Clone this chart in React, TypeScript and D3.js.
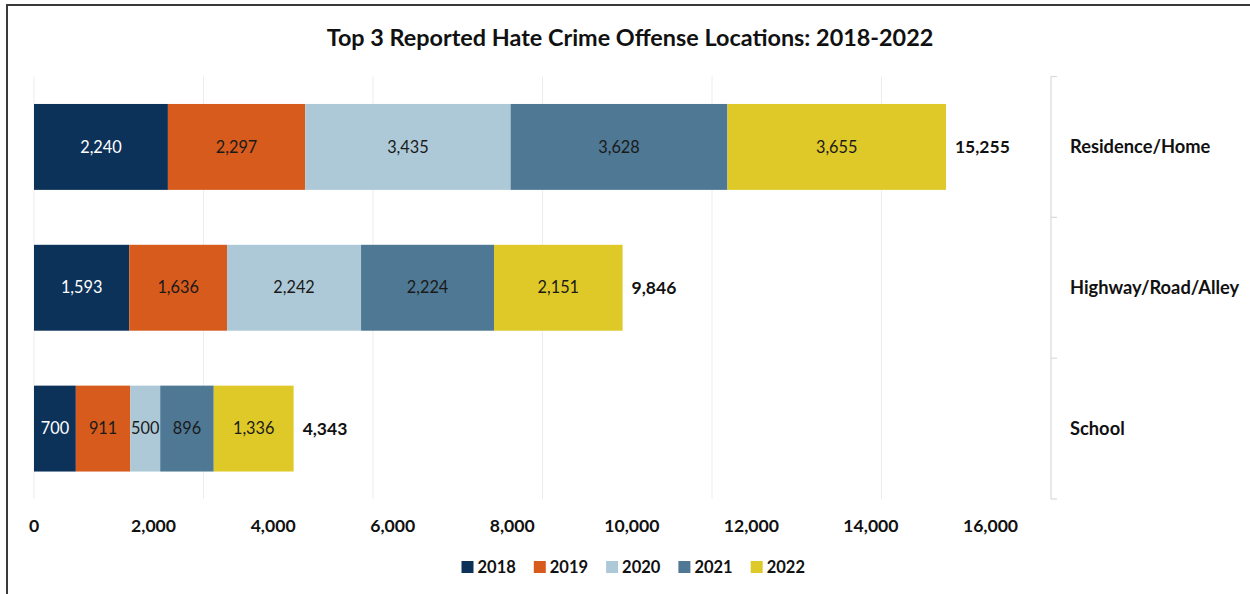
import * as React from "react"
import * as d3 from "d3"

const categories = ["Residence/Home", "Highway/Road/Alley", "School"]
const years = ["2018", "2019", "2020", "2021", "2022"]
const values2018 = [2240, 1593, 700]
const values2019 = [2297, 1636, 911]
const values2020 = [3435, 2242, 500]
const values2021 = [3628, 2224, 896]
const values2022 = [3655, 2151, 1336]
const totals = [15255, 9846, 4343]
const xTicks = [0, 2000, 4000, 6000, 8000, 10000, 12000, 14000, 16000]

const colors = ["#0c325a", "#d75b1c", "#adc9d7", "#4e7893", "#dfc929"]
const labelColors = ["#ffffff", "#1a1a1a", "#1a1a1a", "#1a1a1a", "#1a1a1a"]

const W = 1250
const H = 594
const FONT = "Lato, 'Open Sans', sans-serif"

export default function App() {
    const series = [values2018, values2019, values2020, values2021, values2022]
    const rows = categories.map((c, i) => {
        const row: any = { category: c }
        years.forEach((y, j) => (row[y] = series[j][i]))
        return row
    })
    const stacked = d3.stack().keys(years)(rows)

    const x = d3.scaleLinear().domain([0, 16000]).range([34, 990.5])
    const y = d3.scaleBand().domain(categories).range([76.5, 499]).paddingInner(0.39).paddingOuter(0.195)
    // gridlines in the source sit on their own even spacing up to the right axis
    const grid = d3.scaleLinear().domain([0, 6]).range([34, 1051])
    const fmt = d3.format(",")
    const bands = [0, 1, 2, 3].map(i => 76.5 + i * y.step())

    return (
        <svg width={W} height={H} style={{ position: "absolute", left: 0, top: 0, background: "#fff" }}>
            <path d={`M7,${H} V5 H${W}`} fill="none" stroke="#3a3a3a" strokeWidth={2} />
            <text x={630} y={46} textAnchor="middle" fontFamily={FONT} fontWeight="bold" fontSize={23.4} fill="#111">
                Top 3 Reported Hate Crime Offense Locations: 2018-2022
            </text>

            {d3.range(0, 6).map(i => (
                <line key={i} x1={grid(i)} x2={grid(i)} y1={76.5} y2={499} stroke="#ececec" strokeWidth={1} />
            ))}

            <line x1={1051} x2={1051} y1={76.5} y2={499} stroke="#d9d9d9" strokeWidth={1.2} />
            {bands.map((b, i) => (
                <line key={i} x1={1051} x2={1057} y1={b} y2={b} stroke="#d9d9d9" strokeWidth={1.2} />
            ))}

            {stacked.map((s, j) => (
                <g key={s.key}>
                    {s.map((d, i) => {
                        const x0 = x(d[0])
                        const x1 = x(d[1])
                        const yy = y(categories[i])!
                        return (
                            <g key={i}>
                                <rect x={x0} y={yy} width={x1 - x0} height={y.bandwidth()} fill={colors[j]} />
                                <text x={(x0 + x1) / 2} y={yy + y.bandwidth() / 2} dy="0.35em" textAnchor="middle"
                                    fontFamily={FONT} fontSize={16.3} fill={labelColors[j]}>
                                    {fmt(d[1] - d[0])}
                                </text>
                            </g>
                        )
                    })}
                </g>
            ))}

            {categories.map((c, i) => (
                <g key={c}>
                    <text x={x(totals[i]) + 9} y={y(c)! + y.bandwidth() / 2} dy="0.35em" fontFamily={FONT}
                        fontWeight="bold" fontSize={17.5} fill="#111">
                        {fmt(totals[i])}
                    </text>
                    <text x={1070} y={y(c)! + y.bandwidth() / 2} dy="0.35em" fontFamily={FONT}
                        fontWeight="bold" fontSize={18.3} fill="#111">
                        {c}
                    </text>
                </g>
            ))}

            {xTicks.map(t => (
                <text key={t} x={x(t)} y={526} dy="0.35em" textAnchor="middle" fontFamily={FONT}
                    fontWeight="bold" fontSize={17.6} fill="#111">
                    {fmt(t)}
                </text>
            ))}

            {years.map((yr, j) => (
                <g key={yr} transform={`translate(${461.5 + j * 72.3},567)`}>
                    <rect x={0} y={-6} width={12} height={12} fill={colors[j]} />
                    <text x={16} y={0} dy="0.35em" fontFamily={FONT} fontWeight="bold" fontSize={16.5} fill="#111">
                        {yr}
                    </text>
                </g>
            ))}
        </svg>
    )
}
